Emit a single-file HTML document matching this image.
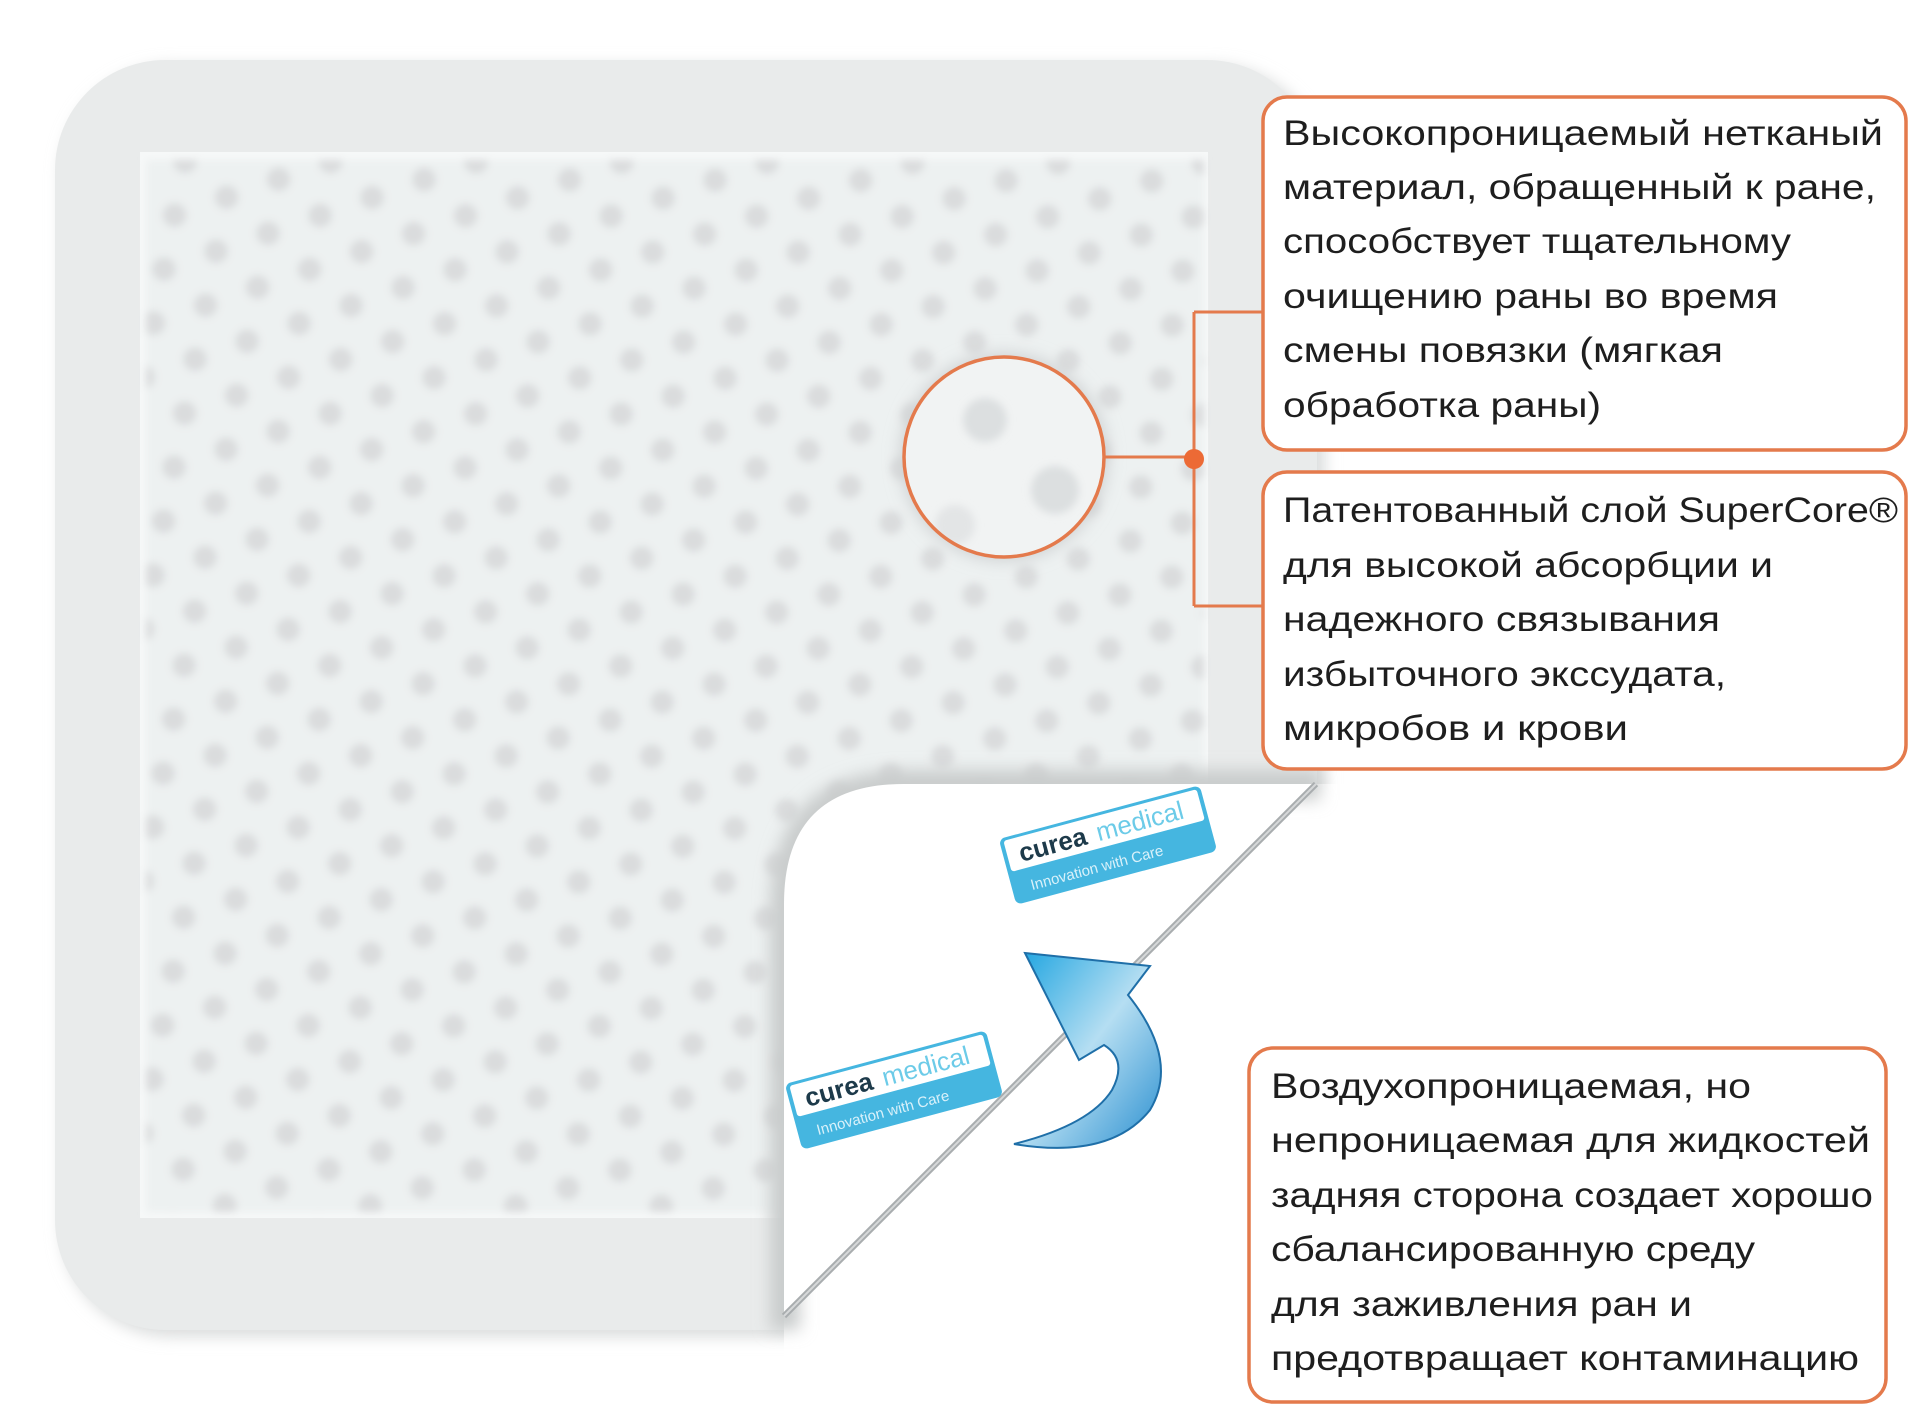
<!DOCTYPE html>
<html><head><meta charset="utf-8"><style>
html,body{margin:0;padding:0;background:#fff;}
svg{display:block}
text{font-family:"Liberation Sans","DejaVu Sans",sans-serif;fill:#1e1e1e;font-size:35px;}
</style></head><body>
<svg width="1920" height="1421" viewBox="0 0 1920 1421" xmlns="http://www.w3.org/2000/svg">
<defs>
  <pattern id="dots" x="150" y="165" width="55" height="95.26" patternUnits="userSpaceOnUse" patternTransform="rotate(-19)">
    <rect width="55" height="95.26" fill="#edf1f1"/>
    <circle cx="0" cy="0" r="12" fill="#dadcdd"/>
    <circle cx="55" cy="0" r="12" fill="#dadcdd"/>
    <circle cx="0" cy="95.26" r="12" fill="#dadcdd"/>
    <circle cx="55" cy="95.26" r="12" fill="#dadcdd"/>
    <circle cx="27.5" cy="47.63" r="12" fill="#dadcdd"/>
  </pattern>
  <filter id="blur" x="-5%" y="-5%" width="110%" height="110%"><feGaussianBlur stdDeviation="4"/></filter>
  <filter id="sh" x="-10%" y="-10%" width="120%" height="120%"><feGaussianBlur stdDeviation="8"/></filter>
  <linearGradient id="blue" x1="0" y1="0" x2="1" y2="1">
    <stop offset="0" stop-color="#1aa3e0"/>
    <stop offset="0.5" stop-color="#b5def2"/>
    <stop offset="1" stop-color="#2a8fd0"/>
  </linearGradient>
  <clipPath id="circ"><circle cx="1004" cy="457" r="100"/></clipPath>
</defs>

<rect x="62" y="66" width="1262" height="1270" rx="110" fill="#d8dada" filter="url(#sh)"/>
<rect x="55" y="60" width="1262" height="1270" rx="110" fill="#e9ebeb"/>
<rect x="140" y="152" width="1068" height="1066" fill="#f6f8f8"/>
<rect x="146" y="160" width="1058" height="1052" fill="url(#dots)" filter="url(#blur)"/>

<polygon points="1316,784 1330,784 1400,784 1400,1421 784,1421 784,1316" fill="#fff"/>
<path d="M770,1330 L770,910 Q770,770 910,770 L1320,770 L1320,800 L910,800 Q800,800 800,910 L800,1330 Z" fill="#c9cccc" filter="url(#sh)"/>
<path d="M784,1316 L784,904 Q784,784 904,784 L1316,784 Z" fill="#fff"/>
<line x1="1316" y1="784" x2="784" y2="1316" stroke="#a9adaf" stroke-width="6"/>
<line x1="1316" y1="784" x2="784" y2="1316" stroke="#d6d8d9" stroke-width="2"/>

<g transform="translate(1108,845) rotate(-15)">
  <rect x="-104" y="-34" width="208" height="68" rx="6" fill="#45b6e0"/>
  <rect x="-100" y="-31" width="200" height="32" rx="3" fill="#fff"/>
  <text x="-88" y="-6" style="font-size:26px;font-weight:bold;fill:#1d3a4a">curea</text>
  <text x="-8" y="-6" style="font-size:26px;fill:#6ccbe8">medical</text>
  <text x="-85" y="24" style="font-size:15px;fill:#d9f1fa">Innovation with Care</text>
</g>
<g transform="translate(894,1090) rotate(-15)">
  <rect x="-104" y="-34" width="208" height="68" rx="6" fill="#45b6e0"/>
  <rect x="-100" y="-31" width="200" height="32" rx="3" fill="#fff"/>
  <text x="-88" y="-6" style="font-size:26px;font-weight:bold;fill:#1d3a4a">curea</text>
  <text x="-8" y="-6" style="font-size:26px;fill:#6ccbe8">medical</text>
  <text x="-85" y="24" style="font-size:15px;fill:#d9f1fa">Innovation with Care</text>
</g>

<path d="M1025,953 L1150,966 L1128,995 Q1180,1060 1150,1110 Q1110,1160 1014,1144 Q1090,1125 1112,1090 Q1128,1060 1104,1045 L1079,1060 Z" fill="url(#blue)" stroke="#1f6fa8" stroke-width="2"/>

<circle cx="1004" cy="457" r="104" fill="#cfd2d3" filter="url(#sh)"/>
<circle cx="1004" cy="457" r="100" fill="#f1f3f3"/>
<g clip-path="url(#circ)" filter="url(#blur)">
  <circle cx="985" cy="420" r="22" fill="#dcdfe0"/>
  <circle cx="1055" cy="490" r="24" fill="#dcdfe0"/>
  <circle cx="955" cy="525" r="20" fill="#e3e5e6"/>
</g>
<circle cx="1004" cy="457" r="100" fill="none" stroke="#e47a4c" stroke-width="3.5"/>

<g stroke="#e47a4c" stroke-width="3" fill="none">
  <line x1="1104" y1="457" x2="1194" y2="457"/>
  <line x1="1194" y1="312" x2="1194" y2="606"/>
  <line x1="1194" y1="312" x2="1263" y2="312"/>
  <line x1="1194" y1="606" x2="1263" y2="606"/>
</g>
<circle cx="1194" cy="459" r="10" fill="#ec6a35"/>

<g fill="#fff" stroke="#e47a4c" stroke-width="3.5">
  <rect x="1263" y="97" width="643" height="353" rx="24"/>
  <rect x="1263" y="472" width="643" height="297" rx="24"/>
  <rect x="1249" y="1048" width="637" height="354" rx="24"/>
</g>

<g>
  <text x="1283" y="145" textLength="600" lengthAdjust="spacingAndGlyphs">Высокопроницаемый нетканый</text>
  <text x="1283" y="199" textLength="593" lengthAdjust="spacingAndGlyphs">материал, обращенный к ране,</text>
  <text x="1283" y="253" textLength="508" lengthAdjust="spacingAndGlyphs">способствует тщательному</text>
  <text x="1283" y="308" textLength="495" lengthAdjust="spacingAndGlyphs">очищению раны во время</text>
  <text x="1283" y="362" textLength="440" lengthAdjust="spacingAndGlyphs">смены повязки (мягкая</text>
  <text x="1283" y="417" textLength="318" lengthAdjust="spacingAndGlyphs">обработка раны)</text>

  <text x="1283" y="522" textLength="615" lengthAdjust="spacingAndGlyphs">Патентованный слой SuperCore®</text>
  <text x="1283" y="577" textLength="490" lengthAdjust="spacingAndGlyphs">для высокой абсорбции и</text>
  <text x="1283" y="631" textLength="437" lengthAdjust="spacingAndGlyphs">надежного связывания</text>
  <text x="1283" y="686" textLength="443" lengthAdjust="spacingAndGlyphs">избыточного экссудата,</text>
  <text x="1283" y="740" textLength="345" lengthAdjust="spacingAndGlyphs">микробов и крови</text>

  <text x="1271" y="1098" textLength="480" lengthAdjust="spacingAndGlyphs">Воздухопроницаемая, но</text>
  <text x="1271" y="1152" textLength="599" lengthAdjust="spacingAndGlyphs">непроницаемая для жидкостей</text>
  <text x="1271" y="1207" textLength="602" lengthAdjust="spacingAndGlyphs">задняя сторона создает хорошо</text>
  <text x="1271" y="1261" textLength="484" lengthAdjust="spacingAndGlyphs">сбалансированную среду</text>
  <text x="1271" y="1316" textLength="421" lengthAdjust="spacingAndGlyphs">для заживления ран и</text>
  <text x="1271" y="1370" textLength="588" lengthAdjust="spacingAndGlyphs">предотвращает контаминацию</text>
</g>
</svg>
</body></html>
